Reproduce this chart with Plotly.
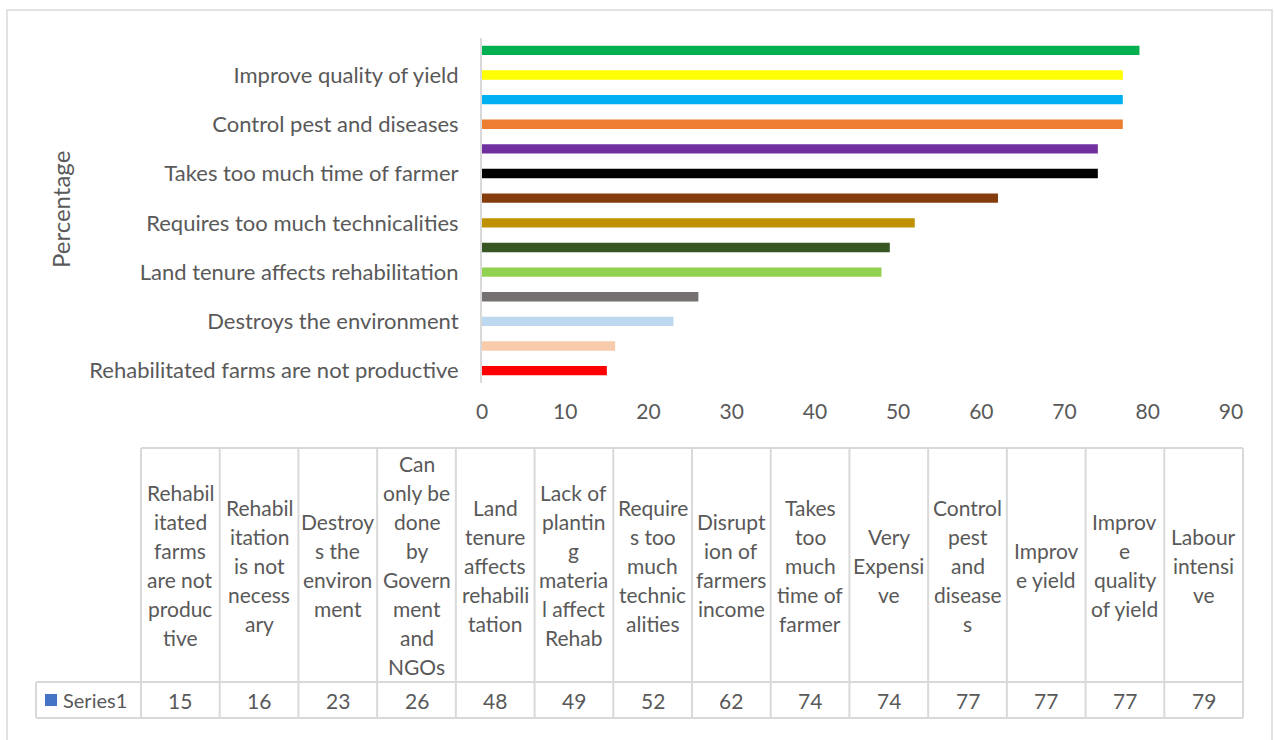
import plotly.graph_objects as go

# Survey responses (percentage of farmers), ordered from bottom to top of the chart
categories = [
    "Rehabilitated farms are not productive",
    "Rehabilitation is not necessary",
    "Destroys the environment",
    "Can only be done by Government and NGOs",
    "Land tenure affects rehabilitation",
    "Lack of planting material affect Rehab",
    "Requires too much technicalities",
    "Disruption of farmers income",
    "Takes too much time of farmer",
    "Very Expensive",
    "Control pest and diseases",
    "Improve yield",
    "Improve quality of yield",
    "Labour intensive",
]
values = [15, 16, 23, 26, 48, 49, 52, 62, 74, 74, 77, 77, 77, 79]

# Wrapped header text for the data table under the chart
table_headers = [
    ["Rehabil", "itated", "farms", "are not", "produc", "tive"],
    ["Rehabil", "itation", "is not", "necess", "ary"],
    ["Destroy", "s the", "environ", "ment"],
    ["Can", "only be", "done", "by", "Govern", "ment", "and", "NGOs"],
    ["Land", "tenure", "affects", "rehabili", "tation"],
    ["Lack of", "plantin", "g", "materia", "l affect", "Rehab"],
    ["Require", "s too", "much", "technic", "alities"],
    ["Disrupt", "ion of", "farmers", "income"],
    ["Takes", "too", "much", "time of", "farmer"],
    ["Very", "Expensi", "ve"],
    ["Control", "pest", "and", "disease", "s"],
    ["Improv", "e yield"],
    ["Improv", "e", "quality", "of yield"],
    ["Labour", "intensi", "ve"],
]
series_name = "Series1"
x_ticks = [0, 10, 20, 30, 40, 50, 60, 70, 80, 90]

bar_colors = [
    "#FF0000", "#F8CBAD", "#BDD7EE", "#767171", "#92D050", "#375623", "#BF9000",
    "#843C0C", "#000000", "#7030A0", "#ED7D31", "#00B0F0", "#FFFF00", "#00B050",
]

W, H = 1274, 740
ML, MR, MT, MB = 482, 43, 38, 357
PW, PH = W - ML - MR, H - MT - MB

FONT = "Lato, 'Open Sans', sans-serif"
TXT = "#595959"
GRID = "#D9D9D9"


def px(x):
    return (x - ML) / PW


def py(y):
    return (H - MB - y) / PH


fig = go.Figure(
    go.Bar(
        x=values,
        y=categories,
        orientation="h",
        marker=dict(color=bar_colors, line=dict(width=0)),
        showlegend=False,
    )
)

shapes = []
annotations = []

# outer chart frame
shapes.append(dict(type="rect", xref="paper", yref="paper",
                   x0=px(7), x1=px(1272), y0=py(10), y1=py(742),
                   line=dict(color=GRID, width=1.5), layer="below"))

# data table grid
tbl_left, tbl_right = 141, 1243
head_top, row_top, row_bot = 448, 682, 718
col_w = (tbl_right - tbl_left) / len(categories)
line_style = dict(color=GRID, width=2)
for y0, xs in [(head_top, tbl_left), (row_top, 36), (row_bot, 36)]:
    shapes.append(dict(type="line", xref="paper", yref="paper",
                       x0=px(xs), x1=px(tbl_right), y0=py(y0), y1=py(y0),
                       line=line_style))
shapes.append(dict(type="line", xref="paper", yref="paper",
                   x0=px(36), x1=px(36), y0=py(row_top), y1=py(row_bot),
                   line=line_style))
for k in range(len(categories) + 1):
    xk = tbl_left + k * col_w
    shapes.append(dict(type="line", xref="paper", yref="paper",
                       x0=px(xk), x1=px(xk), y0=py(head_top), y1=py(row_bot),
                       line=line_style))

# legend key square for the series row
shapes.append(dict(type="rect", xref="paper", yref="paper",
                   x0=px(45), x1=px(57), y0=py(694), y1=py(706),
                   fillcolor="#4472C4", line=dict(width=0)))
annotations.append(dict(xref="paper", yref="paper", x=px(61), y=py(700),
                        text=series_name, showarrow=False, xanchor="left",
                        yanchor="middle", font=dict(family=FONT, size=20, color=TXT)))

# header text and values
line_h = 29
head_mid = (head_top + row_top) / 2
row_mid = (row_top + row_bot) / 2
for k, (lines, v) in enumerate(zip(table_headers, values)):
    cx = tbl_left + (k + 0.5) * col_w
    n = len(lines)
    for i, t in enumerate(lines):
        ly = head_mid + (i - (n - 1) / 2) * line_h
        annotations.append(dict(xref="paper", yref="paper", x=px(cx), y=py(ly),
                                text=t, showarrow=False, xanchor="center",
                                yanchor="middle",
                                font=dict(family=FONT, size=21, color=TXT)))
    annotations.append(dict(xref="paper", yref="paper", x=px(cx), y=py(row_mid),
                            text=str(v), showarrow=False, xanchor="center",
                            yanchor="middle",
                            font=dict(family=FONT, size=21, color=TXT)))

# y-axis title
annotations.append(dict(xref="paper", yref="paper", x=px(60), y=py(210),
                        text="Percentage", textangle=-90, showarrow=False,
                        xanchor="center", yanchor="middle",
                        font=dict(family=FONT, size=24, color=TXT)))

label_cats = [categories[i] for i in range(0, len(categories), 2)]

fig.update_layout(
    width=W, height=H,
    margin=dict(l=ML, r=MR, t=MT, b=MB, autoexpand=False),
    paper_bgcolor="white", plot_bgcolor="white",
    bargap=0.62,
    shapes=shapes,
    annotations=annotations,
    xaxis=dict(range=[0, 90], tickvals=x_ticks, showgrid=False, zeroline=False,
               showline=False, ticks="", ticklabelstandoff=14,
               tickfont=dict(family=FONT, size=21, color=TXT)),
    yaxis=dict(categoryorder="array", categoryarray=categories,
               tickvals=label_cats, ticktext=label_cats,
               showgrid=False, zeroline=False, showline=True, linecolor=GRID,
               linewidth=2, ticks="", ticklabelstandoff=17,
               tickfont=dict(family=FONT, size=22, color=TXT)),
)

fig.write_html("out.html")
